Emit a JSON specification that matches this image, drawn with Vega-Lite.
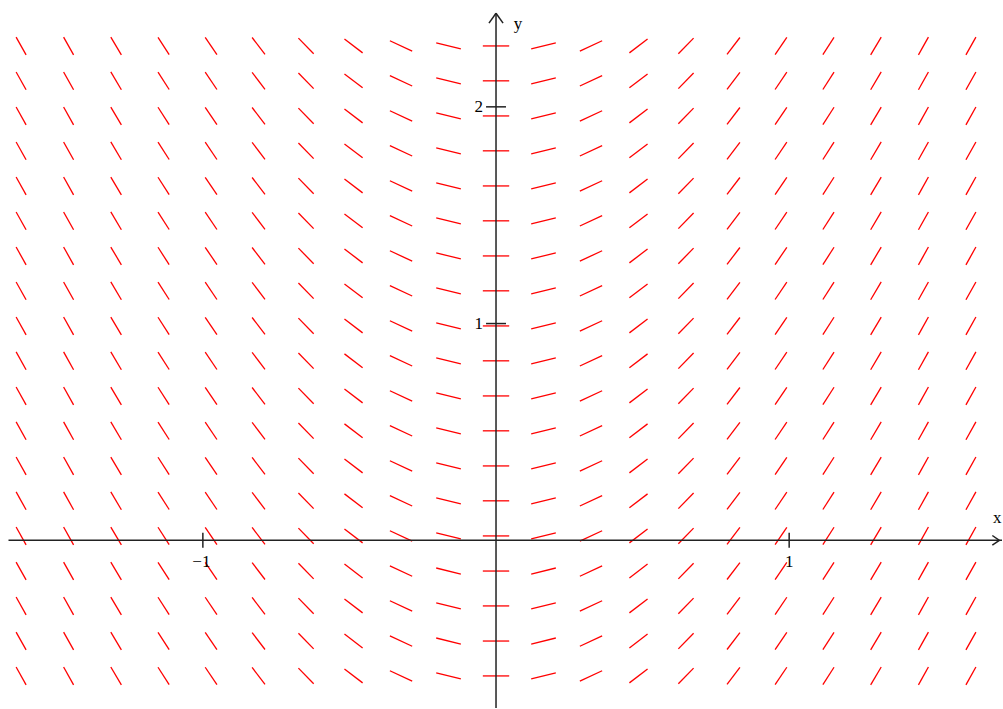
{"$schema":"https://vega.github.io/schema/vega-lite/v6.json","width":1003,"height":709,"autosize":{"type":"fit","contains":"padding"},"padding":0,"background":"white","config":{"view":{"stroke":null}},
"datasets":{
"seg":[
{"x1":-1.603,"x2":-1.637,"y1":-0.667,"y2":-0.585},{"x1":-1.441,"x2":-1.475,"y1":-0.667,"y2":-0.585},{"x1":-1.278,"x2":-1.314,"y1":-0.667,"y2":-0.585},{"x1":-1.115,"x2":-1.153,"y1":-0.666,"y2":-0.586},{"x1":-0.952,"x2":-0.992,"y1":-0.666,"y2":-0.586},{"x1":-0.788,"x2":-0.832,"y1":-0.665,"y2":-0.587},{"x1":-0.622,"x2":-0.674,"y1":-0.662,"y2":-0.590},{"x1":-0.455,"x2":-0.517,"y1":-0.658,"y2":-0.594},{"x1":-0.286,"x2":-0.362,"y1":-0.650,"y2":-0.602},{"x1":-0.120,"x2":-0.204,"y1":-0.640,"y2":-0.612},{"x1":-0.045,"x2":0.045,"y1":-0.626,"y2":-0.626},{"x1":0.120,"x2":0.204,"y1":-0.640,"y2":-0.612},{"x1":0.286,"x2":0.362,"y1":-0.650,"y2":-0.602},{"x1":0.455,"x2":0.517,"y1":-0.658,"y2":-0.594},{"x1":0.622,"x2":0.674,"y1":-0.662,"y2":-0.590},{"x1":0.788,"x2":0.832,"y1":-0.665,"y2":-0.587},{"x1":0.952,"x2":0.992,"y1":-0.666,"y2":-0.586},{"x1":1.115,"x2":1.153,"y1":-0.666,"y2":-0.586},{"x1":1.278,"x2":1.314,"y1":-0.667,"y2":-0.585},{"x1":1.441,"x2":1.475,"y1":-0.667,"y2":-0.585},{"x1":1.603,"x2":1.637,"y1":-0.667,"y2":-0.585},
{"x1":-1.603,"x2":-1.637,"y1":-0.506,"y2":-0.424},{"x1":-1.441,"x2":-1.475,"y1":-0.506,"y2":-0.424},{"x1":-1.278,"x2":-1.314,"y1":-0.506,"y2":-0.424},{"x1":-1.115,"x2":-1.153,"y1":-0.505,"y2":-0.425},{"x1":-0.952,"x2":-0.992,"y1":-0.505,"y2":-0.425},{"x1":-0.788,"x2":-0.832,"y1":-0.504,"y2":-0.426},{"x1":-0.622,"x2":-0.674,"y1":-0.501,"y2":-0.429},{"x1":-0.455,"x2":-0.517,"y1":-0.497,"y2":-0.433},{"x1":-0.286,"x2":-0.362,"y1":-0.489,"y2":-0.441},{"x1":-0.120,"x2":-0.204,"y1":-0.479,"y2":-0.451},{"x1":-0.045,"x2":0.045,"y1":-0.465,"y2":-0.465},{"x1":0.120,"x2":0.204,"y1":-0.479,"y2":-0.451},{"x1":0.286,"x2":0.362,"y1":-0.489,"y2":-0.441},{"x1":0.455,"x2":0.517,"y1":-0.497,"y2":-0.433},{"x1":0.622,"x2":0.674,"y1":-0.501,"y2":-0.429},{"x1":0.788,"x2":0.832,"y1":-0.504,"y2":-0.426},{"x1":0.952,"x2":0.992,"y1":-0.505,"y2":-0.425},{"x1":1.115,"x2":1.153,"y1":-0.505,"y2":-0.425},{"x1":1.278,"x2":1.314,"y1":-0.506,"y2":-0.424},{"x1":1.441,"x2":1.475,"y1":-0.506,"y2":-0.424},{"x1":1.603,"x2":1.637,"y1":-0.506,"y2":-0.424},
{"x1":-1.603,"x2":-1.637,"y1":-0.344,"y2":-0.262},{"x1":-1.441,"x2":-1.475,"y1":-0.344,"y2":-0.262},{"x1":-1.278,"x2":-1.314,"y1":-0.344,"y2":-0.262},{"x1":-1.115,"x2":-1.153,"y1":-0.343,"y2":-0.263},{"x1":-0.952,"x2":-0.992,"y1":-0.343,"y2":-0.263},{"x1":-0.788,"x2":-0.832,"y1":-0.342,"y2":-0.264},{"x1":-0.622,"x2":-0.674,"y1":-0.339,"y2":-0.267},{"x1":-0.455,"x2":-0.517,"y1":-0.335,"y2":-0.271},{"x1":-0.286,"x2":-0.362,"y1":-0.327,"y2":-0.279},{"x1":-0.120,"x2":-0.204,"y1":-0.317,"y2":-0.289},{"x1":-0.045,"x2":0.045,"y1":-0.303,"y2":-0.303},{"x1":0.120,"x2":0.204,"y1":-0.317,"y2":-0.289},{"x1":0.286,"x2":0.362,"y1":-0.327,"y2":-0.279},{"x1":0.455,"x2":0.517,"y1":-0.335,"y2":-0.271},{"x1":0.622,"x2":0.674,"y1":-0.339,"y2":-0.267},{"x1":0.788,"x2":0.832,"y1":-0.342,"y2":-0.264},{"x1":0.952,"x2":0.992,"y1":-0.343,"y2":-0.263},{"x1":1.115,"x2":1.153,"y1":-0.343,"y2":-0.263},{"x1":1.278,"x2":1.314,"y1":-0.344,"y2":-0.262},{"x1":1.441,"x2":1.475,"y1":-0.344,"y2":-0.262},{"x1":1.603,"x2":1.637,"y1":-0.344,"y2":-0.262},
{"x1":-1.603,"x2":-1.637,"y1":-0.183,"y2":-0.101},{"x1":-1.441,"x2":-1.475,"y1":-0.183,"y2":-0.101},{"x1":-1.278,"x2":-1.314,"y1":-0.183,"y2":-0.101},{"x1":-1.115,"x2":-1.153,"y1":-0.182,"y2":-0.102},{"x1":-0.952,"x2":-0.992,"y1":-0.182,"y2":-0.102},{"x1":-0.788,"x2":-0.832,"y1":-0.181,"y2":-0.103},{"x1":-0.622,"x2":-0.674,"y1":-0.178,"y2":-0.106},{"x1":-0.455,"x2":-0.517,"y1":-0.174,"y2":-0.110},{"x1":-0.286,"x2":-0.362,"y1":-0.166,"y2":-0.118},{"x1":-0.120,"x2":-0.204,"y1":-0.156,"y2":-0.128},{"x1":-0.045,"x2":0.045,"y1":-0.142,"y2":-0.142},{"x1":0.120,"x2":0.204,"y1":-0.156,"y2":-0.128},{"x1":0.286,"x2":0.362,"y1":-0.166,"y2":-0.118},{"x1":0.455,"x2":0.517,"y1":-0.174,"y2":-0.110},{"x1":0.622,"x2":0.674,"y1":-0.178,"y2":-0.106},{"x1":0.788,"x2":0.832,"y1":-0.181,"y2":-0.103},{"x1":0.952,"x2":0.992,"y1":-0.182,"y2":-0.102},{"x1":1.115,"x2":1.153,"y1":-0.182,"y2":-0.102},{"x1":1.278,"x2":1.314,"y1":-0.183,"y2":-0.101},{"x1":1.441,"x2":1.475,"y1":-0.183,"y2":-0.101},{"x1":1.603,"x2":1.637,"y1":-0.183,"y2":-0.101},
{"x1":-1.603,"x2":-1.637,"y1":-0.021,"y2":0.061},{"x1":-1.441,"x2":-1.475,"y1":-0.021,"y2":0.061},{"x1":-1.278,"x2":-1.314,"y1":-0.021,"y2":0.061},{"x1":-1.115,"x2":-1.153,"y1":-0.020,"y2":0.060},{"x1":-0.952,"x2":-0.992,"y1":-0.020,"y2":0.060},{"x1":-0.788,"x2":-0.832,"y1":-0.019,"y2":0.059},{"x1":-0.622,"x2":-0.674,"y1":-0.016,"y2":0.056},{"x1":-0.455,"x2":-0.517,"y1":-0.012,"y2":0.052},{"x1":-0.286,"x2":-0.362,"y1":-0.004,"y2":0.044},{"x1":-0.120,"x2":-0.204,"y1":0.006,"y2":0.034},{"x1":-0.045,"x2":0.045,"y1":0.020,"y2":0.020},{"x1":0.120,"x2":0.204,"y1":0.006,"y2":0.034},{"x1":0.286,"x2":0.362,"y1":-0.004,"y2":0.044},{"x1":0.455,"x2":0.517,"y1":-0.012,"y2":0.052},{"x1":0.622,"x2":0.674,"y1":-0.016,"y2":0.056},{"x1":0.788,"x2":0.832,"y1":-0.019,"y2":0.059},{"x1":0.952,"x2":0.992,"y1":-0.020,"y2":0.060},{"x1":1.115,"x2":1.153,"y1":-0.020,"y2":0.060},{"x1":1.278,"x2":1.314,"y1":-0.021,"y2":0.061},{"x1":1.441,"x2":1.475,"y1":-0.021,"y2":0.061},{"x1":1.603,"x2":1.637,"y1":-0.021,"y2":0.061},
{"x1":-1.603,"x2":-1.637,"y1":0.141,"y2":0.223},{"x1":-1.441,"x2":-1.475,"y1":0.141,"y2":0.223},{"x1":-1.278,"x2":-1.314,"y1":0.141,"y2":0.223},{"x1":-1.115,"x2":-1.153,"y1":0.142,"y2":0.222},{"x1":-0.952,"x2":-0.992,"y1":0.142,"y2":0.222},{"x1":-0.788,"x2":-0.832,"y1":0.143,"y2":0.221},{"x1":-0.622,"x2":-0.674,"y1":0.146,"y2":0.218},{"x1":-0.455,"x2":-0.517,"y1":0.150,"y2":0.214},{"x1":-0.286,"x2":-0.362,"y1":0.158,"y2":0.206},{"x1":-0.120,"x2":-0.204,"y1":0.168,"y2":0.196},{"x1":-0.045,"x2":0.045,"y1":0.182,"y2":0.182},{"x1":0.120,"x2":0.204,"y1":0.168,"y2":0.196},{"x1":0.286,"x2":0.362,"y1":0.158,"y2":0.206},{"x1":0.455,"x2":0.517,"y1":0.150,"y2":0.214},{"x1":0.622,"x2":0.674,"y1":0.146,"y2":0.218},{"x1":0.788,"x2":0.832,"y1":0.143,"y2":0.221},{"x1":0.952,"x2":0.992,"y1":0.142,"y2":0.222},{"x1":1.115,"x2":1.153,"y1":0.142,"y2":0.222},{"x1":1.278,"x2":1.314,"y1":0.141,"y2":0.223},{"x1":1.441,"x2":1.475,"y1":0.141,"y2":0.223},{"x1":1.603,"x2":1.637,"y1":0.141,"y2":0.223},
{"x1":-1.603,"x2":-1.637,"y1":0.302,"y2":0.384},{"x1":-1.441,"x2":-1.475,"y1":0.302,"y2":0.384},{"x1":-1.278,"x2":-1.314,"y1":0.302,"y2":0.384},{"x1":-1.115,"x2":-1.153,"y1":0.303,"y2":0.383},{"x1":-0.952,"x2":-0.992,"y1":0.303,"y2":0.383},{"x1":-0.788,"x2":-0.832,"y1":0.304,"y2":0.382},{"x1":-0.622,"x2":-0.674,"y1":0.307,"y2":0.379},{"x1":-0.455,"x2":-0.517,"y1":0.311,"y2":0.375},{"x1":-0.286,"x2":-0.362,"y1":0.319,"y2":0.367},{"x1":-0.120,"x2":-0.204,"y1":0.329,"y2":0.357},{"x1":-0.045,"x2":0.045,"y1":0.343,"y2":0.343},{"x1":0.120,"x2":0.204,"y1":0.329,"y2":0.357},{"x1":0.286,"x2":0.362,"y1":0.319,"y2":0.367},{"x1":0.455,"x2":0.517,"y1":0.311,"y2":0.375},{"x1":0.622,"x2":0.674,"y1":0.307,"y2":0.379},{"x1":0.788,"x2":0.832,"y1":0.304,"y2":0.382},{"x1":0.952,"x2":0.992,"y1":0.303,"y2":0.383},{"x1":1.115,"x2":1.153,"y1":0.303,"y2":0.383},{"x1":1.278,"x2":1.314,"y1":0.302,"y2":0.384},{"x1":1.441,"x2":1.475,"y1":0.302,"y2":0.384},{"x1":1.603,"x2":1.637,"y1":0.302,"y2":0.384},
{"x1":-1.603,"x2":-1.637,"y1":0.464,"y2":0.546},{"x1":-1.441,"x2":-1.475,"y1":0.464,"y2":0.546},{"x1":-1.278,"x2":-1.314,"y1":0.464,"y2":0.546},{"x1":-1.115,"x2":-1.153,"y1":0.465,"y2":0.545},{"x1":-0.952,"x2":-0.992,"y1":0.465,"y2":0.545},{"x1":-0.788,"x2":-0.832,"y1":0.466,"y2":0.544},{"x1":-0.622,"x2":-0.674,"y1":0.469,"y2":0.541},{"x1":-0.455,"x2":-0.517,"y1":0.473,"y2":0.537},{"x1":-0.286,"x2":-0.362,"y1":0.481,"y2":0.529},{"x1":-0.120,"x2":-0.204,"y1":0.491,"y2":0.519},{"x1":-0.045,"x2":0.045,"y1":0.505,"y2":0.505},{"x1":0.120,"x2":0.204,"y1":0.491,"y2":0.519},{"x1":0.286,"x2":0.362,"y1":0.481,"y2":0.529},{"x1":0.455,"x2":0.517,"y1":0.473,"y2":0.537},{"x1":0.622,"x2":0.674,"y1":0.469,"y2":0.541},{"x1":0.788,"x2":0.832,"y1":0.466,"y2":0.544},{"x1":0.952,"x2":0.992,"y1":0.465,"y2":0.545},{"x1":1.115,"x2":1.153,"y1":0.465,"y2":0.545},{"x1":1.278,"x2":1.314,"y1":0.464,"y2":0.546},{"x1":1.441,"x2":1.475,"y1":0.464,"y2":0.546},{"x1":1.603,"x2":1.637,"y1":0.464,"y2":0.546},
{"x1":-1.603,"x2":-1.637,"y1":0.625,"y2":0.707},{"x1":-1.441,"x2":-1.475,"y1":0.625,"y2":0.707},{"x1":-1.278,"x2":-1.314,"y1":0.625,"y2":0.707},{"x1":-1.115,"x2":-1.153,"y1":0.626,"y2":0.706},{"x1":-0.952,"x2":-0.992,"y1":0.626,"y2":0.706},{"x1":-0.788,"x2":-0.832,"y1":0.627,"y2":0.705},{"x1":-0.622,"x2":-0.674,"y1":0.630,"y2":0.702},{"x1":-0.455,"x2":-0.517,"y1":0.634,"y2":0.698},{"x1":-0.286,"x2":-0.362,"y1":0.642,"y2":0.690},{"x1":-0.120,"x2":-0.204,"y1":0.652,"y2":0.680},{"x1":-0.045,"x2":0.045,"y1":0.666,"y2":0.666},{"x1":0.120,"x2":0.204,"y1":0.652,"y2":0.680},{"x1":0.286,"x2":0.362,"y1":0.642,"y2":0.690},{"x1":0.455,"x2":0.517,"y1":0.634,"y2":0.698},{"x1":0.622,"x2":0.674,"y1":0.630,"y2":0.702},{"x1":0.788,"x2":0.832,"y1":0.627,"y2":0.705},{"x1":0.952,"x2":0.992,"y1":0.626,"y2":0.706},{"x1":1.115,"x2":1.153,"y1":0.626,"y2":0.706},{"x1":1.278,"x2":1.314,"y1":0.625,"y2":0.707},{"x1":1.441,"x2":1.475,"y1":0.625,"y2":0.707},{"x1":1.603,"x2":1.637,"y1":0.625,"y2":0.707},
{"x1":-1.603,"x2":-1.637,"y1":0.787,"y2":0.869},{"x1":-1.441,"x2":-1.475,"y1":0.787,"y2":0.869},{"x1":-1.278,"x2":-1.314,"y1":0.787,"y2":0.869},{"x1":-1.115,"x2":-1.153,"y1":0.788,"y2":0.868},{"x1":-0.952,"x2":-0.992,"y1":0.788,"y2":0.868},{"x1":-0.788,"x2":-0.832,"y1":0.789,"y2":0.867},{"x1":-0.622,"x2":-0.674,"y1":0.792,"y2":0.864},{"x1":-0.455,"x2":-0.517,"y1":0.796,"y2":0.860},{"x1":-0.286,"x2":-0.362,"y1":0.804,"y2":0.852},{"x1":-0.120,"x2":-0.204,"y1":0.814,"y2":0.842},{"x1":-0.045,"x2":0.045,"y1":0.828,"y2":0.828},{"x1":0.120,"x2":0.204,"y1":0.814,"y2":0.842},{"x1":0.286,"x2":0.362,"y1":0.804,"y2":0.852},{"x1":0.455,"x2":0.517,"y1":0.796,"y2":0.860},{"x1":0.622,"x2":0.674,"y1":0.792,"y2":0.864},{"x1":0.788,"x2":0.832,"y1":0.789,"y2":0.867},{"x1":0.952,"x2":0.992,"y1":0.788,"y2":0.868},{"x1":1.115,"x2":1.153,"y1":0.788,"y2":0.868},{"x1":1.278,"x2":1.314,"y1":0.787,"y2":0.869},{"x1":1.441,"x2":1.475,"y1":0.787,"y2":0.869},{"x1":1.603,"x2":1.637,"y1":0.787,"y2":0.869},
{"x1":-1.603,"x2":-1.637,"y1":0.948,"y2":1.030},{"x1":-1.441,"x2":-1.475,"y1":0.948,"y2":1.030},{"x1":-1.278,"x2":-1.314,"y1":0.948,"y2":1.030},{"x1":-1.115,"x2":-1.153,"y1":0.949,"y2":1.029},{"x1":-0.952,"x2":-0.992,"y1":0.949,"y2":1.029},{"x1":-0.788,"x2":-0.832,"y1":0.950,"y2":1.028},{"x1":-0.622,"x2":-0.674,"y1":0.953,"y2":1.025},{"x1":-0.455,"x2":-0.517,"y1":0.957,"y2":1.021},{"x1":-0.286,"x2":-0.362,"y1":0.965,"y2":1.013},{"x1":-0.120,"x2":-0.204,"y1":0.975,"y2":1.003},{"x1":-0.045,"x2":0.045,"y1":0.989,"y2":0.989},{"x1":0.120,"x2":0.204,"y1":0.975,"y2":1.003},{"x1":0.286,"x2":0.362,"y1":0.965,"y2":1.013},{"x1":0.455,"x2":0.517,"y1":0.957,"y2":1.021},{"x1":0.622,"x2":0.674,"y1":0.953,"y2":1.025},{"x1":0.788,"x2":0.832,"y1":0.950,"y2":1.028},{"x1":0.952,"x2":0.992,"y1":0.949,"y2":1.029},{"x1":1.115,"x2":1.153,"y1":0.949,"y2":1.029},{"x1":1.278,"x2":1.314,"y1":0.948,"y2":1.030},{"x1":1.441,"x2":1.475,"y1":0.948,"y2":1.030},{"x1":1.603,"x2":1.637,"y1":0.948,"y2":1.030},
{"x1":-1.603,"x2":-1.637,"y1":1.110,"y2":1.192},{"x1":-1.441,"x2":-1.475,"y1":1.110,"y2":1.192},{"x1":-1.278,"x2":-1.314,"y1":1.110,"y2":1.192},{"x1":-1.115,"x2":-1.153,"y1":1.111,"y2":1.191},{"x1":-0.952,"x2":-0.992,"y1":1.111,"y2":1.191},{"x1":-0.788,"x2":-0.832,"y1":1.112,"y2":1.190},{"x1":-0.622,"x2":-0.674,"y1":1.115,"y2":1.187},{"x1":-0.455,"x2":-0.517,"y1":1.119,"y2":1.183},{"x1":-0.286,"x2":-0.362,"y1":1.127,"y2":1.175},{"x1":-0.120,"x2":-0.204,"y1":1.137,"y2":1.165},{"x1":-0.045,"x2":0.045,"y1":1.151,"y2":1.151},{"x1":0.120,"x2":0.204,"y1":1.137,"y2":1.165},{"x1":0.286,"x2":0.362,"y1":1.127,"y2":1.175},{"x1":0.455,"x2":0.517,"y1":1.119,"y2":1.183},{"x1":0.622,"x2":0.674,"y1":1.115,"y2":1.187},{"x1":0.788,"x2":0.832,"y1":1.112,"y2":1.190},{"x1":0.952,"x2":0.992,"y1":1.111,"y2":1.191},{"x1":1.115,"x2":1.153,"y1":1.111,"y2":1.191},{"x1":1.278,"x2":1.314,"y1":1.110,"y2":1.192},{"x1":1.441,"x2":1.475,"y1":1.110,"y2":1.192},{"x1":1.603,"x2":1.637,"y1":1.110,"y2":1.192},
{"x1":-1.603,"x2":-1.637,"y1":1.271,"y2":1.353},{"x1":-1.441,"x2":-1.475,"y1":1.271,"y2":1.353},{"x1":-1.278,"x2":-1.314,"y1":1.271,"y2":1.353},{"x1":-1.115,"x2":-1.153,"y1":1.272,"y2":1.352},{"x1":-0.952,"x2":-0.992,"y1":1.272,"y2":1.352},{"x1":-0.788,"x2":-0.832,"y1":1.273,"y2":1.351},{"x1":-0.622,"x2":-0.674,"y1":1.276,"y2":1.348},{"x1":-0.455,"x2":-0.517,"y1":1.280,"y2":1.344},{"x1":-0.286,"x2":-0.362,"y1":1.288,"y2":1.336},{"x1":-0.120,"x2":-0.204,"y1":1.298,"y2":1.326},{"x1":-0.045,"x2":0.045,"y1":1.312,"y2":1.312},{"x1":0.120,"x2":0.204,"y1":1.298,"y2":1.326},{"x1":0.286,"x2":0.362,"y1":1.288,"y2":1.336},{"x1":0.455,"x2":0.517,"y1":1.280,"y2":1.344},{"x1":0.622,"x2":0.674,"y1":1.276,"y2":1.348},{"x1":0.788,"x2":0.832,"y1":1.273,"y2":1.351},{"x1":0.952,"x2":0.992,"y1":1.272,"y2":1.352},{"x1":1.115,"x2":1.153,"y1":1.272,"y2":1.352},{"x1":1.278,"x2":1.314,"y1":1.271,"y2":1.353},{"x1":1.441,"x2":1.475,"y1":1.271,"y2":1.353},{"x1":1.603,"x2":1.637,"y1":1.271,"y2":1.353},
{"x1":-1.603,"x2":-1.637,"y1":1.433,"y2":1.515},{"x1":-1.441,"x2":-1.475,"y1":1.433,"y2":1.515},{"x1":-1.278,"x2":-1.314,"y1":1.433,"y2":1.515},{"x1":-1.115,"x2":-1.153,"y1":1.434,"y2":1.514},{"x1":-0.952,"x2":-0.992,"y1":1.434,"y2":1.514},{"x1":-0.788,"x2":-0.832,"y1":1.435,"y2":1.513},{"x1":-0.622,"x2":-0.674,"y1":1.438,"y2":1.510},{"x1":-0.455,"x2":-0.517,"y1":1.442,"y2":1.506},{"x1":-0.286,"x2":-0.362,"y1":1.450,"y2":1.498},{"x1":-0.120,"x2":-0.204,"y1":1.460,"y2":1.488},{"x1":-0.045,"x2":0.045,"y1":1.474,"y2":1.474},{"x1":0.120,"x2":0.204,"y1":1.460,"y2":1.488},{"x1":0.286,"x2":0.362,"y1":1.450,"y2":1.498},{"x1":0.455,"x2":0.517,"y1":1.442,"y2":1.506},{"x1":0.622,"x2":0.674,"y1":1.438,"y2":1.510},{"x1":0.788,"x2":0.832,"y1":1.435,"y2":1.513},{"x1":0.952,"x2":0.992,"y1":1.434,"y2":1.514},{"x1":1.115,"x2":1.153,"y1":1.434,"y2":1.514},{"x1":1.278,"x2":1.314,"y1":1.433,"y2":1.515},{"x1":1.441,"x2":1.475,"y1":1.433,"y2":1.515},{"x1":1.603,"x2":1.637,"y1":1.433,"y2":1.515},
{"x1":-1.603,"x2":-1.637,"y1":1.594,"y2":1.676},{"x1":-1.441,"x2":-1.475,"y1":1.594,"y2":1.676},{"x1":-1.278,"x2":-1.314,"y1":1.594,"y2":1.676},{"x1":-1.115,"x2":-1.153,"y1":1.595,"y2":1.675},{"x1":-0.952,"x2":-0.992,"y1":1.595,"y2":1.675},{"x1":-0.788,"x2":-0.832,"y1":1.596,"y2":1.674},{"x1":-0.622,"x2":-0.674,"y1":1.599,"y2":1.671},{"x1":-0.455,"x2":-0.517,"y1":1.603,"y2":1.667},{"x1":-0.286,"x2":-0.362,"y1":1.611,"y2":1.659},{"x1":-0.120,"x2":-0.204,"y1":1.621,"y2":1.649},{"x1":-0.045,"x2":0.045,"y1":1.635,"y2":1.635},{"x1":0.120,"x2":0.204,"y1":1.621,"y2":1.649},{"x1":0.286,"x2":0.362,"y1":1.611,"y2":1.659},{"x1":0.455,"x2":0.517,"y1":1.603,"y2":1.667},{"x1":0.622,"x2":0.674,"y1":1.599,"y2":1.671},{"x1":0.788,"x2":0.832,"y1":1.596,"y2":1.674},{"x1":0.952,"x2":0.992,"y1":1.595,"y2":1.675},{"x1":1.115,"x2":1.153,"y1":1.595,"y2":1.675},{"x1":1.278,"x2":1.314,"y1":1.594,"y2":1.676},{"x1":1.441,"x2":1.475,"y1":1.594,"y2":1.676},{"x1":1.603,"x2":1.637,"y1":1.594,"y2":1.676},
{"x1":-1.603,"x2":-1.637,"y1":1.756,"y2":1.838},{"x1":-1.441,"x2":-1.475,"y1":1.756,"y2":1.838},{"x1":-1.278,"x2":-1.314,"y1":1.756,"y2":1.838},{"x1":-1.115,"x2":-1.153,"y1":1.757,"y2":1.837},{"x1":-0.952,"x2":-0.992,"y1":1.757,"y2":1.837},{"x1":-0.788,"x2":-0.832,"y1":1.758,"y2":1.836},{"x1":-0.622,"x2":-0.674,"y1":1.761,"y2":1.833},{"x1":-0.455,"x2":-0.517,"y1":1.765,"y2":1.829},{"x1":-0.286,"x2":-0.362,"y1":1.773,"y2":1.821},{"x1":-0.120,"x2":-0.204,"y1":1.783,"y2":1.811},{"x1":-0.045,"x2":0.045,"y1":1.797,"y2":1.797},{"x1":0.120,"x2":0.204,"y1":1.783,"y2":1.811},{"x1":0.286,"x2":0.362,"y1":1.773,"y2":1.821},{"x1":0.455,"x2":0.517,"y1":1.765,"y2":1.829},{"x1":0.622,"x2":0.674,"y1":1.761,"y2":1.833},{"x1":0.788,"x2":0.832,"y1":1.758,"y2":1.836},{"x1":0.952,"x2":0.992,"y1":1.757,"y2":1.837},{"x1":1.115,"x2":1.153,"y1":1.757,"y2":1.837},{"x1":1.278,"x2":1.314,"y1":1.756,"y2":1.838},{"x1":1.441,"x2":1.475,"y1":1.756,"y2":1.838},{"x1":1.603,"x2":1.637,"y1":1.756,"y2":1.838},
{"x1":-1.603,"x2":-1.637,"y1":1.917,"y2":1.999},{"x1":-1.441,"x2":-1.475,"y1":1.917,"y2":1.999},{"x1":-1.278,"x2":-1.314,"y1":1.917,"y2":1.999},{"x1":-1.115,"x2":-1.153,"y1":1.918,"y2":1.998},{"x1":-0.952,"x2":-0.992,"y1":1.918,"y2":1.998},{"x1":-0.788,"x2":-0.832,"y1":1.919,"y2":1.997},{"x1":-0.622,"x2":-0.674,"y1":1.922,"y2":1.994},{"x1":-0.455,"x2":-0.517,"y1":1.926,"y2":1.990},{"x1":-0.286,"x2":-0.362,"y1":1.934,"y2":1.982},{"x1":-0.120,"x2":-0.204,"y1":1.944,"y2":1.972},{"x1":-0.045,"x2":0.045,"y1":1.958,"y2":1.958},{"x1":0.120,"x2":0.204,"y1":1.944,"y2":1.972},{"x1":0.286,"x2":0.362,"y1":1.934,"y2":1.982},{"x1":0.455,"x2":0.517,"y1":1.926,"y2":1.990},{"x1":0.622,"x2":0.674,"y1":1.922,"y2":1.994},{"x1":0.788,"x2":0.832,"y1":1.919,"y2":1.997},{"x1":0.952,"x2":0.992,"y1":1.918,"y2":1.998},{"x1":1.115,"x2":1.153,"y1":1.918,"y2":1.998},{"x1":1.278,"x2":1.314,"y1":1.917,"y2":1.999},{"x1":1.441,"x2":1.475,"y1":1.917,"y2":1.999},{"x1":1.603,"x2":1.637,"y1":1.917,"y2":1.999},
{"x1":-1.603,"x2":-1.637,"y1":2.079,"y2":2.161},{"x1":-1.441,"x2":-1.475,"y1":2.079,"y2":2.161},{"x1":-1.278,"x2":-1.314,"y1":2.079,"y2":2.161},{"x1":-1.115,"x2":-1.153,"y1":2.080,"y2":2.160},{"x1":-0.952,"x2":-0.992,"y1":2.080,"y2":2.160},{"x1":-0.788,"x2":-0.832,"y1":2.081,"y2":2.159},{"x1":-0.622,"x2":-0.674,"y1":2.084,"y2":2.156},{"x1":-0.455,"x2":-0.517,"y1":2.088,"y2":2.152},{"x1":-0.286,"x2":-0.362,"y1":2.096,"y2":2.144},{"x1":-0.120,"x2":-0.204,"y1":2.106,"y2":2.134},{"x1":-0.045,"x2":0.045,"y1":2.120,"y2":2.120},{"x1":0.120,"x2":0.204,"y1":2.106,"y2":2.134},{"x1":0.286,"x2":0.362,"y1":2.096,"y2":2.144},{"x1":0.455,"x2":0.517,"y1":2.088,"y2":2.152},{"x1":0.622,"x2":0.674,"y1":2.084,"y2":2.156},{"x1":0.788,"x2":0.832,"y1":2.081,"y2":2.159},{"x1":0.952,"x2":0.992,"y1":2.080,"y2":2.160},{"x1":1.115,"x2":1.153,"y1":2.080,"y2":2.160},{"x1":1.278,"x2":1.314,"y1":2.079,"y2":2.161},{"x1":1.441,"x2":1.475,"y1":2.079,"y2":2.161},{"x1":1.603,"x2":1.637,"y1":2.079,"y2":2.161},
{"x1":-1.603,"x2":-1.637,"y1":2.240,"y2":2.322},{"x1":-1.441,"x2":-1.475,"y1":2.240,"y2":2.322},{"x1":-1.278,"x2":-1.314,"y1":2.240,"y2":2.322},{"x1":-1.115,"x2":-1.153,"y1":2.241,"y2":2.321},{"x1":-0.952,"x2":-0.992,"y1":2.241,"y2":2.321},{"x1":-0.788,"x2":-0.832,"y1":2.242,"y2":2.320},{"x1":-0.622,"x2":-0.674,"y1":2.245,"y2":2.317},{"x1":-0.455,"x2":-0.517,"y1":2.249,"y2":2.313},{"x1":-0.286,"x2":-0.362,"y1":2.257,"y2":2.305},{"x1":-0.120,"x2":-0.204,"y1":2.267,"y2":2.295},{"x1":-0.045,"x2":0.045,"y1":2.281,"y2":2.281},{"x1":0.120,"x2":0.204,"y1":2.267,"y2":2.295},{"x1":0.286,"x2":0.362,"y1":2.257,"y2":2.305},{"x1":0.455,"x2":0.517,"y1":2.249,"y2":2.313},{"x1":0.622,"x2":0.674,"y1":2.245,"y2":2.317},{"x1":0.788,"x2":0.832,"y1":2.242,"y2":2.320},{"x1":0.952,"x2":0.992,"y1":2.241,"y2":2.321},{"x1":1.115,"x2":1.153,"y1":2.241,"y2":2.321},{"x1":1.278,"x2":1.314,"y1":2.240,"y2":2.322},{"x1":1.441,"x2":1.475,"y1":2.240,"y2":2.322},{"x1":1.603,"x2":1.637,"y1":2.240,"y2":2.322}
],
"axes":[
{"x1":-1.663,"x2":1.726,"y1":0,"y2":0},
{"x1":0,"x2":0,"y1":-0.774,"y2":2.432},
{"x1":-0.024,"x2":0,"y1":2.386,"y2":2.432},
{"x1":0.024,"x2":0,"y1":2.386,"y2":2.432},
{"x1":1.693,"x2":1.717,"y1":0.022,"y2":0},
{"x1":1.693,"x2":1.717,"y1":-0.022,"y2":0},
{"x1":-1,"x2":-1,"y1":-0.035,"y2":0.035},
{"x1":1,"x2":1,"y1":-0.035,"y2":0.035},
{"x1":-0.034,"x2":0.034,"y1":1,"y2":1},
{"x1":-0.034,"x2":0.034,"y1":2,"y2":2}
],
"centerLabels":[
{"x1":-1.005,"y1":-0.101,"label":"−1"},
{"x1":1.0,"y1":-0.101,"label":"1"},
{"x1":1.71,"y1":0.101,"label":"x"},
{"x1":0.075,"y1":2.38,"label":"y"}
],
"rightLabels":[
{"x1":-0.044,"y1":1,"label":"1"},
{"x1":-0.044,"y1":2,"label":"2"}
]
},
"encoding":{
"x":{"field":"x1","type":"quantitative","scale":{"domain":[-1.692,1.726],"nice":false,"zero":false},"axis":null},
"y":{"field":"y1","type":"quantitative","scale":{"domain":[-0.774,2.493],"nice":false,"zero":false},"axis":null}
},
"layer":[
{"data":{"name":"seg"},"mark":{"type":"rule","color":"#ff0000","strokeWidth":1.3},"encoding":{"x2":{"field":"x2"},"y2":{"field":"y2"}}},
{"data":{"name":"axes"},"mark":{"type":"rule","color":"#222222","strokeWidth":1.5},"encoding":{"x2":{"field":"x2"},"y2":{"field":"y2"}}},
{"data":{"name":"centerLabels"},"mark":{"type":"text","font":"Liberation Serif","fontSize":17,"color":"#000000","align":"center","baseline":"middle"},"encoding":{"text":{"field":"label"}}},
{"data":{"name":"rightLabels"},"mark":{"type":"text","font":"Liberation Serif","fontSize":17,"color":"#000000","align":"right","baseline":"middle"},"encoding":{"text":{"field":"label"}}}
]
}
